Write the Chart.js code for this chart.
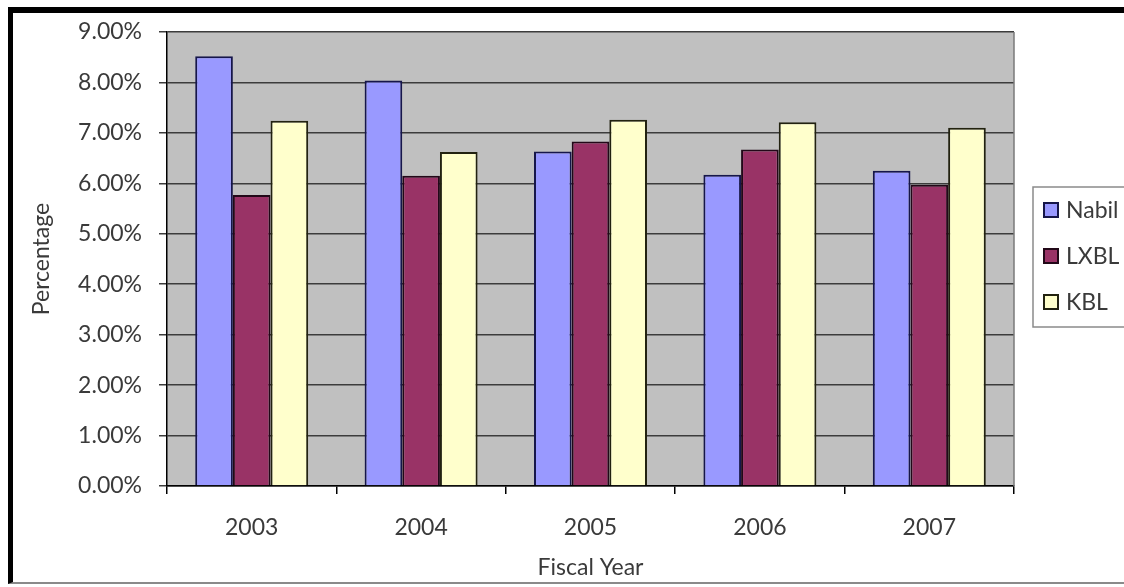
<!DOCTYPE html>
<html>
<head>
<meta charset="utf-8">
<script src="https://cdn.jsdelivr.net/npm/chart.js@4.4.1/dist/chart.umd.min.js"></script>
<style>
  html, body { margin: 0; padding: 0; background: #fff; overflow: hidden; }
  #wrap { position: relative; width: 1124px; height: 587px; }
  #frame {
    position: absolute; left: 8px; top: 7px; width: 1140px; height: 577px;
    border-left: 5px solid #000; border-top: 6px solid #000; border-bottom: 2px solid #8a8a8a;
    box-sizing: border-box; pointer-events: none;
  }
  canvas { position: absolute; left: 0; top: 0; }
</style>
</head>
<body>
<div id="wrap">
  <canvas id="c" width="1124" height="587"></canvas>
  <div id="frame"></div>
</div>
<script>
// Fiscal years on the x axis
const years = ['2003', '2004', '2005', '2006', '2007'];
// Percentages per bank
const nabil = [8.52, 8.04, 6.63, 6.17, 6.25];
const lxbl  = [5.77, 6.15, 6.83, 6.67, 5.97];
const kbl   = [7.24, 6.62, 7.26, 7.21, 7.10];
const seriesNames = ['Nabil', 'LXBL', 'KBL'];
// y axis range and step (percent)
const yMin = 0, yMax = 9, yStep = 1;

const FONT = 'Lato, "Open Sans", sans-serif';
const TEXT = '#3a3a3a';

const plotBackground = {
  id: 'plotBackground',
  beforeDraw(chart) {
    const {ctx, chartArea: a} = chart;
    ctx.save();
    ctx.fillStyle = '#c0c0c0';
    ctx.fillRect(a.left, a.top, a.right - a.left, a.bottom - a.top);
    ctx.restore();
  },
  afterDatasetsDraw(chart) {
    const {ctx, chartArea: a} = chart;
    ctx.save();
    ctx.strokeStyle = '#7a7a7a';
    ctx.lineWidth = 1.5;
    ctx.beginPath();
    ctx.moveTo(a.right, a.top);
    ctx.lineTo(a.right, a.bottom);
    ctx.stroke();
    ctx.restore();
  }
};

// Boxed legend to the right of the plot
const boxedLegend = {
  id: 'boxedLegend',
  afterDraw(chart) {
    const {ctx} = chart;
    const x0 = 1033, y0 = 187, w = 120, h = 140;
    ctx.save();
    ctx.fillStyle = '#fff';
    ctx.fillRect(x0, y0, w, h);
    ctx.strokeStyle = '#8a8a8a';
    ctx.lineWidth = 1.5;
    ctx.strokeRect(x0, y0, w, h);
    ctx.font = '23px ' + FONT;
    ctx.textBaseline = 'middle';
    ctx.textAlign = 'left';
    chart.data.datasets.forEach((ds, i) => {
      const cy = 210 + i * 46;
      ctx.fillStyle = ds.backgroundColor;
      ctx.fillRect(1044, cy - 7, 14, 14);
      ctx.strokeStyle = ds.borderColor;
      ctx.lineWidth = 2;
      ctx.strokeRect(1044, cy - 7, 14, 14);
      ctx.fillStyle = TEXT;
      ctx.fillText(ds.label, 1066, cy + 1);
    });
    ctx.restore();
  }
};

new Chart(document.getElementById('c'), {
  type: 'bar',
  data: {
    labels: years,
    datasets: [
      { label: seriesNames[0], data: nabil, backgroundColor: '#9999ff', borderColor: '#16164a' },
      { label: seriesNames[1], data: lxbl,  backgroundColor: '#993366', borderColor: '#220818' },
      { label: seriesNames[2], data: kbl,   backgroundColor: '#ffffcc', borderColor: '#222210' }
    ]
  },
  options: {
    responsive: false,
    animation: false,
    devicePixelRatio: 1,
    layout: { padding: { left: 20, top: 32, right: 110, bottom: 5 } },
    datasets: {
      bar: { categoryPercentage: 0.667, barPercentage: 1, borderWidth: 2, borderSkipped: 'start' }
    },
    plugins: { legend: { display: false }, tooltip: { enabled: false } },
    scales: {
      x: {
        afterFit(s) { s.height = 96; },
        grid: { display: true, drawOnChartArea: false, offset: true, tickLength: 8, color: '#000', lineWidth: 1.5 },
        border: { color: '#000', width: 1.5 },
        ticks: { color: TEXT, font: { family: FONT, size: 23 }, padding: 20 },
        title: { display: true, text: 'Fiscal Year', color: TEXT, font: { family: FONT, size: 23 }, padding: { top: 0, bottom: 1 } }
      },
      y: {
        min: yMin, max: yMax,
        afterFit(s) { s.width = 147; },
        grid: { color: '#3c3c3c', lineWidth: 1.5, tickLength: 8 },
        border: { color: '#000', width: 1.5 },
        ticks: {
          stepSize: yStep,
          color: TEXT, font: { family: FONT, size: 23 }, padding: 17,
          callback: v => v.toFixed(2) + '%'
        },
        title: { display: true, text: 'Percentage', color: TEXT, font: { family: FONT, size: 23 }, padding: { top: 8, bottom: 0 } }
      }
    }
  },
  plugins: [plotBackground, boxedLegend]
});
</script>
</body>
</html>
